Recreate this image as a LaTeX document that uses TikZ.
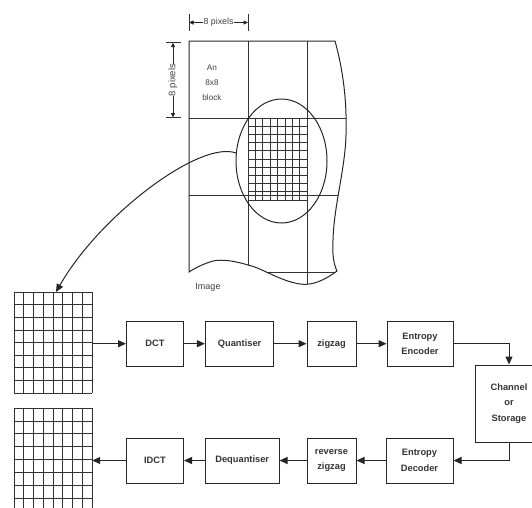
\documentclass[tikz,border=0pt]{standalone}
\usepackage{fontspec}
\setmainfont{Liberation Sans}
\usetikzlibrary{arrows.meta,shapes.geometric,calc}
\begin{document}
\begin{tikzpicture}[x=1pt,y=-1pt,
  ln/.style={draw=black!85,line width=1pt},
  thinln/.style={draw=black!80,line width=0.75pt},
  blk/.style={draw=black!85,line width=1pt,align=center,
    font=\fontsize{9.3}{15.5}\selectfont\bfseries,text=black!80,inner sep=0pt},
  lbl/.style={align=center,text=black!75,inner sep=0pt},
  arr/.style={ln,-{Triangle[length=8pt,width=7pt]}},
  dimarr/.style={draw=black!85,line width=0.8pt,-{Triangle[length=4.5pt,width=4pt]}},
  ghost/.style={draw=none,inner sep=0pt}]
\useasboundingbox (0,0) rectangle (532,507);
\clip (0,0) rectangle (532,507);

% ---------- image with 8x8 blocks ----------
\begin{scope}
\clip (189,41) -- (335,41) .. controls (343,70) and (347,100) .. (346,135)
  .. controls (345,170) and (334,205) .. (333,240)
  .. controls (332,255) and (334,265) .. (337,271)
  .. controls (325,280) and (312,286) .. (300,284)
  .. controls (280,281) and (262,268) .. (248,265)
  .. controls (235,261) and (222,259) .. (213,261)
  .. controls (203,264) and (195,268) .. (189,272) -- cycle;
\foreach \x in {248,307} \draw[thinln] (\x,41) -- (\x,300);
\foreach \y in {118,195,272} \draw[thinln] (189,\y) -- (360,\y);
\end{scope}
\draw[ln] (189,41) -- (335,41) .. controls (343,70) and (347,100) .. (346,135)
  .. controls (345,170) and (334,205) .. (333,240)
  .. controls (332,255) and (334,265) .. (337,271)
  .. controls (325,280) and (312,286) .. (300,284)
  .. controls (280,281) and (262,268) .. (248,265)
  .. controls (235,261) and (222,259) .. (213,261)
  .. controls (203,264) and (195,268) .. (189,272) -- cycle;

% fine grid of one block
\foreach \i in {0,...,8} \draw[thinln] (248+\i*7.4,118) -- (248+\i*7.4,200);
\foreach \j in {0,...,10} \draw[thinln] (248,118+\j*8.2) -- (307.2,118+\j*8.2);

\node[ellipse,draw=black!85,line width=1pt,minimum width=91pt,minimum height=124pt,inner sep=0pt] (ell) at (281.5,161) {};

\node[lbl,font=\fontsize{8.2}{15}\selectfont] (blocktxt) at (212,83) {An\\8x8\\block};
\node[lbl,font=\fontsize{9}{11}\selectfont] (imglbl) at (208,287) {Image};

% dimension: top
\coordinate (tl) at (189,22.5);
\coordinate (tr) at (248,22.5);
\draw[thinln] (189,14) -- (189,31);
\draw[thinln] (248,14) -- (248,31);
\node[lbl,font=\fontsize{8.8}{10}\selectfont] (tdim) at (218.5,22.5) {8 pixels};
\draw[dimarr] (tdim.west) -- (tl);
\draw[dimarr] (tdim.east) -- (tr);

% dimension: left
\coordinate (lt) at (173,42.7);
\coordinate (lb) at (173,117.5);
\draw[thinln] (166,42.7) -- (181,42.7);
\draw[thinln] (166,117.5) -- (181,117.5);
\node[lbl,font=\fontsize{9.5}{10}\selectfont,rotate=90] (ldim) at (173,80) {8 pixels};
\draw[dimarr] (ldim.east) -- (lt);
\draw[dimarr] (ldim.west) -- (lb);

% ---------- left grids ----------
\node[ghost,minimum width=78pt,minimum height=101pt] (gA) at (53,342.5) {};
\foreach \i in {0,...,8} \draw[thinln] (14+\i*9.75,292) -- (14+\i*9.75,393);
\foreach \j in {0,...,8} \draw[thinln] (14,292+\j*12.625) -- (92,292+\j*12.625);

\node[ghost,minimum width=78pt,minimum height=104pt] (gB) at (53,460) {};
\foreach \i in {0,...,8} \draw[thinln] (14+\i*9.75,408) -- (14+\i*9.75,512);
\foreach \j in {0,...,8} \draw[thinln] (14,408+\j*12.9) -- (92,408+\j*12.9);

\coordinate (gAtop) at (56,292);
\draw[arr] (ell.170) .. controls (200,140) and (100,215) .. (gAtop);

% ---------- encoder chain ----------
\node[blk,minimum width=57pt,minimum height=45pt] (dct) at (155,343.7) {DCT};
\node[blk,minimum width=68.4pt,minimum height=45pt] (quant) at (239.6,343.7) {Quantiser};
\node[blk,minimum width=49pt,minimum height=45pt] (zz) at (331.5,343.7) {zigzag};
\node[blk,minimum width=66pt,minimum height=45pt] (enc) at (420,343.7) {Entropy\\Encoder};
\node[blk,minimum width=68pt,minimum height=77pt] (chan) at (509,403.5) {Channel\\or\\Storage};

\node[blk,minimum width=57pt,minimum height=45pt] (idct) at (155,460.5) {IDCT};
\node[blk,minimum width=73.6pt,minimum height=45pt] (deq) at (242.2,460.5) {Dequantiser};
\node[blk,minimum width=49pt,minimum height=45pt] (rzz) at (331.5,460.5) {reverse\\zigzag};
\node[blk,minimum width=67pt,minimum height=45pt] (dec) at (419.5,460.5) {Entropy\\Decoder};

\draw[arr] (gA.east |- dct.west) -- (dct.west);
\draw[arr] (dct) -- (quant);
\draw[arr] (quant) -- (zz);
\draw[arr] (zz) -- (enc);
\draw[arr] (enc.east) -| (chan.north);
\draw[arr] (chan.south) |- (dec.east);
\draw[arr] (dec) -- (rzz);
\draw[arr] (rzz) -- (deq);
\draw[arr] (deq) -- (idct);
\draw[arr] (idct.west) -- (gB.east |- idct.west);
\end{tikzpicture}
\end{document}
